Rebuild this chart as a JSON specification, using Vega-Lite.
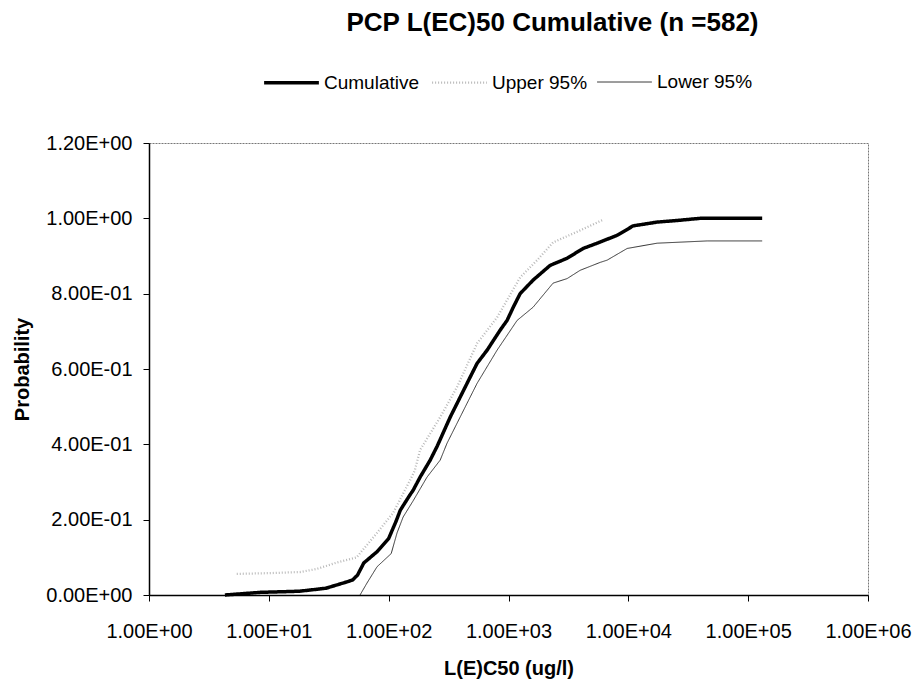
{
  "$schema": "https://vega.github.io/schema/vega-lite/v6.json",
  "width": 719,
  "height": 452,
  "autosize": {"type": "none"},
  "padding": {"left": 149, "top": 143, "right": 49, "bottom": 84},
  "background": "white",
  "config": {
    "font": "Liberation Sans",
    "view": {"stroke": "#777777", "strokeWidth": 1, "strokeDash": [2, 1]}
  },
  "title": {
    "text": "PCP L(EC)50 Cumulative (n =582)",
    "anchor": "middle",
    "frame": "group",
    "dx": 44,
    "offset": 17,
    "fontSize": 26,
    "fontWeight": "bold",
    "font": "Liberation Sans",
    "color": "black"
  },
  "data": {
    "values": [
      {"series": "Cumulative", "x": 4.3, "p": 0},
      {"series": "Cumulative", "x": 8.5, "p": 0.007},
      {"series": "Cumulative", "x": 18, "p": 0.01},
      {"series": "Cumulative", "x": 30, "p": 0.018},
      {"series": "Cumulative", "x": 45, "p": 0.035},
      {"series": "Cumulative", "x": 50, "p": 0.04},
      {"series": "Cumulative", "x": 55, "p": 0.053},
      {"series": "Cumulative", "x": 62, "p": 0.085},
      {"series": "Cumulative", "x": 80, "p": 0.115},
      {"series": "Cumulative", "x": 100, "p": 0.15},
      {"series": "Cumulative", "x": 115, "p": 0.195},
      {"series": "Cumulative", "x": 125, "p": 0.225},
      {"series": "Cumulative", "x": 150, "p": 0.265},
      {"series": "Cumulative", "x": 160, "p": 0.278},
      {"series": "Cumulative", "x": 183, "p": 0.313},
      {"series": "Cumulative", "x": 222, "p": 0.358},
      {"series": "Cumulative", "x": 254, "p": 0.395},
      {"series": "Cumulative", "x": 326, "p": 0.472},
      {"series": "Cumulative", "x": 478, "p": 0.578},
      {"series": "Cumulative", "x": 547, "p": 0.615},
      {"series": "Cumulative", "x": 663, "p": 0.65},
      {"series": "Cumulative", "x": 851, "p": 0.703},
      {"series": "Cumulative", "x": 973, "p": 0.729},
      {"series": "Cumulative", "x": 1100, "p": 0.765},
      {"series": "Cumulative", "x": 1250, "p": 0.8},
      {"series": "Cumulative", "x": 1604, "p": 0.836},
      {"series": "Cumulative", "x": 2223, "p": 0.875},
      {"series": "Cumulative", "x": 3083, "p": 0.894},
      {"series": "Cumulative", "x": 4195, "p": 0.92},
      {"series": "Cumulative", "x": 5495, "p": 0.934},
      {"series": "Cumulative", "x": 8070, "p": 0.955},
      {"series": "Cumulative", "x": 10970, "p": 0.98},
      {"series": "Cumulative", "x": 17380, "p": 0.99},
      {"series": "Cumulative", "x": 27000, "p": 0.995},
      {"series": "Cumulative", "x": 39720, "p": 1.0},
      {"series": "Cumulative", "x": 130900, "p": 1.0},
      {"series": "Upper 95%", "x": 5.4, "p": 0.056},
      {"series": "Upper 95%", "x": 10, "p": 0.058},
      {"series": "Upper 95%", "x": 18.2, "p": 0.061},
      {"series": "Upper 95%", "x": 25, "p": 0.069},
      {"series": "Upper 95%", "x": 36, "p": 0.085},
      {"series": "Upper 95%", "x": 54, "p": 0.1},
      {"series": "Upper 95%", "x": 66, "p": 0.133},
      {"series": "Upper 95%", "x": 80, "p": 0.165},
      {"series": "Upper 95%", "x": 109, "p": 0.218},
      {"series": "Upper 95%", "x": 151, "p": 0.305},
      {"series": "Upper 95%", "x": 165, "p": 0.33},
      {"series": "Upper 95%", "x": 183, "p": 0.385},
      {"series": "Upper 95%", "x": 269, "p": 0.472},
      {"series": "Upper 95%", "x": 372, "p": 0.552},
      {"series": "Upper 95%", "x": 547, "p": 0.668},
      {"series": "Upper 95%", "x": 803, "p": 0.737},
      {"series": "Upper 95%", "x": 1250, "p": 0.843},
      {"series": "Upper 95%", "x": 1733, "p": 0.889},
      {"series": "Upper 95%", "x": 2355, "p": 0.936},
      {"series": "Upper 95%", "x": 3960, "p": 0.968},
      {"series": "Upper 95%", "x": 6040, "p": 0.995},
      {"series": "Lower 95%", "x": 57.7, "p": 0},
      {"series": "Lower 95%", "x": 66, "p": 0.032},
      {"series": "Lower 95%", "x": 80, "p": 0.075},
      {"series": "Lower 95%", "x": 105, "p": 0.11},
      {"series": "Lower 95%", "x": 117.5, "p": 0.165},
      {"series": "Lower 95%", "x": 132, "p": 0.207},
      {"series": "Lower 95%", "x": 160, "p": 0.25},
      {"series": "Lower 95%", "x": 209, "p": 0.313},
      {"series": "Lower 95%", "x": 269, "p": 0.358},
      {"series": "Lower 95%", "x": 307, "p": 0.403},
      {"series": "Lower 95%", "x": 451, "p": 0.509},
      {"series": "Lower 95%", "x": 547, "p": 0.562},
      {"series": "Lower 95%", "x": 803, "p": 0.65},
      {"series": "Lower 95%", "x": 1180, "p": 0.729},
      {"series": "Lower 95%", "x": 1604, "p": 0.764},
      {"series": "Lower 95%", "x": 2355, "p": 0.828},
      {"series": "Lower 95%", "x": 3083, "p": 0.84},
      {"series": "Lower 95%", "x": 3960, "p": 0.862},
      {"series": "Lower 95%", "x": 5820, "p": 0.883},
      {"series": "Lower 95%", "x": 6655, "p": 0.889},
      {"series": "Lower 95%", "x": 9775, "p": 0.92},
      {"series": "Lower 95%", "x": 17380, "p": 0.934},
      {"series": "Lower 95%", "x": 45500, "p": 0.94},
      {"series": "Lower 95%", "x": 130900, "p": 0.94}
    ]
  },
  "mark": {"type": "line", "interpolate": "linear"},
  "encoding": {
    "x": {
      "field": "x",
      "type": "quantitative",
      "scale": {"type": "log", "domain": [1, 1000000], "nice": false},
      "axis": {
        "title": "L(E)C50 (ug/l)",
        "values": [1, 10, 100, 1000, 10000, 100000, 1000000],
        "labelExpr": "'1.00E+0' + round(log(datum.value) / LN10)",
        "grid": false,
        "domainColor": "black",
        "domainWidth": 1.5,
        "tickColor": "black",
        "tickSize": 6,
        "labelPadding": 20,
        "labelFontSize": 20,
        "labelColor": "black",
        "labelFont": "Liberation Sans",
        "labelFlush": false,
        "titleFontSize": 20,
        "titleFontWeight": "bold",
        "titleColor": "black",
        "titlePadding": 17,
        "titleFont": "Liberation Sans"
      }
    },
    "y": {
      "field": "p",
      "type": "quantitative",
      "scale": {"domain": [0, 1.2], "nice": false},
      "axis": {
        "title": "Probability",
        "values": [0, 0.2, 0.4, 0.6, 0.8, 1.0, 1.2],
        "labelExpr": "datum.value == 0 ? '0.00E+00' : (datum.value >= 0.999 ? format(datum.value, '.2f') + 'E+00' : format(datum.value * 10, '.2f') + 'E-01')",
        "grid": false,
        "domainColor": "black",
        "domainWidth": 1.5,
        "tickColor": "black",
        "tickSize": 6,
        "labelPadding": 11,
        "labelFontSize": 20,
        "labelColor": "black",
        "labelFont": "Liberation Sans",
        "labelFlush": false,
        "titleFontSize": 20,
        "titleFontWeight": "bold",
        "titleColor": "black",
        "titlePadding": 13,
        "titleFont": "Liberation Sans"
      }
    },
    "color": {
      "field": "series",
      "type": "nominal",
      "scale": {"domain": ["Cumulative", "Upper 95%", "Lower 95%"], "range": ["#000000", "#b8b8b8", "#333333"]},
      "legend": {
        "title": null,
        "orient": "none",
        "legendX": 113,
        "legendY": -90,
        "direction": "horizontal",
        "columns": 3,
        "columnPadding": 7,
        "symbolType": "stroke",
        "symbolSize": 3000,
        "labelFontSize": 19,
        "labelFont": "Liberation Sans",
        "labelColor": "black",
        "labelOffset": 3,
        "labelLimit": 300
      }
    },
    "strokeWidth": {
      "field": "series",
      "type": "nominal",
      "scale": {"domain": ["Cumulative", "Upper 95%", "Lower 95%"], "range": [3.5, 1, 1]},
      "legend": null
    },
    "strokeDash": {
      "field": "series",
      "type": "nominal",
      "scale": {"domain": ["Cumulative", "Upper 95%", "Lower 95%"], "range": [[1, 0], [1, 2], [1, 0]]},
      "legend": null
    }
  }
}
